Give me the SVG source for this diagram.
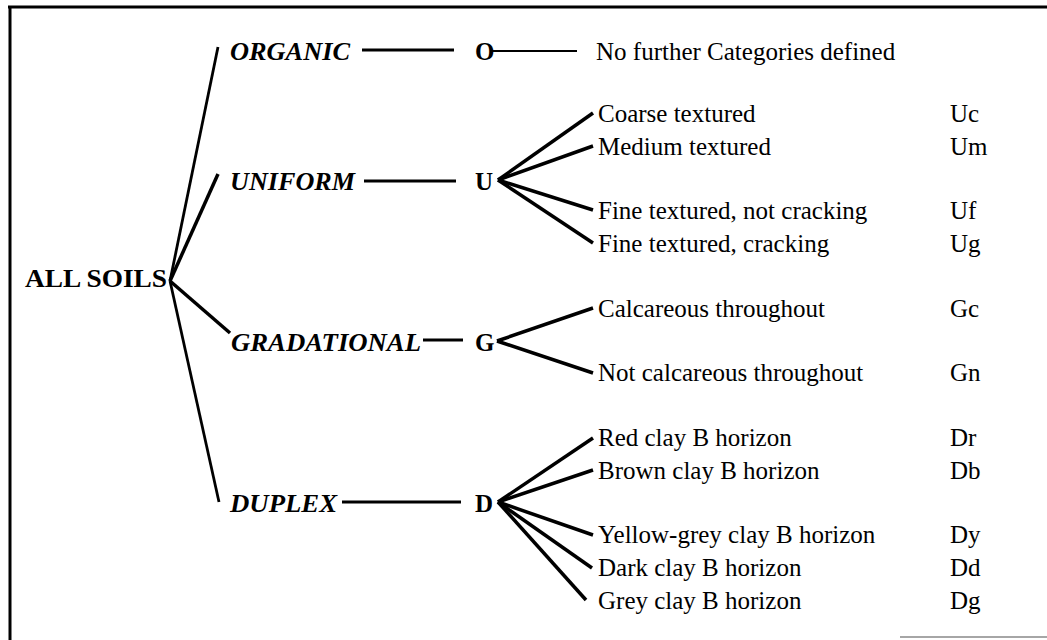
<svg xmlns="http://www.w3.org/2000/svg" width="1047" height="640" viewBox="0 0 1047 640">
<style>
text{font-family:"Liberation Serif","Times New Roman",serif;fill:#000}
.r{font-size:25px}
.b{font-size:25px;font-weight:bold}
.bi{font-size:25px;font-weight:bold;font-style:italic}
.c line{stroke:#000;stroke-width:3.5;stroke-linecap:butt}
.frame{stroke:#000;stroke-width:3;fill:none}
</style>
<rect width="1047" height="640" fill="#fff"/>
<g id="frame">
<line class="frame" x1="8" y1="7" x2="1047" y2="7"/>
<line class="frame" x1="10" y1="6" x2="10" y2="640"/>
<line x1="900" y1="637" x2="1047" y2="637" stroke="#888" stroke-width="1.5"/>
</g>
<g id="all-soils"><text class="b" x="25" y="287" textLength="142" lengthAdjust="spacingAndGlyphs">ALL SOILS</text></g>
<g id="organic"><text class="bi" x="230" y="60" textLength="120" lengthAdjust="spacingAndGlyphs">ORGANIC</text></g>
<g id="uniform"><text class="bi" x="230" y="190" textLength="125" lengthAdjust="spacingAndGlyphs">UNIFORM</text></g>
<g id="gradational"><text class="bi" x="231" y="351" textLength="190" lengthAdjust="spacingAndGlyphs">GRADATIONAL</text></g>
<g id="duplex"><text class="bi" x="230" y="512" textLength="107" lengthAdjust="spacingAndGlyphs">DUPLEX</text></g>
<g id="O"><text class="b" x="475" y="60">O</text></g>
<g id="U"><text class="b" x="475" y="190">U</text></g>
<g id="G"><text class="b" x="475" y="351">G</text></g>
<g id="D"><text class="b" x="475" y="512">D</text></g>
<g id="no-further"><text class="r" x="596" y="60">No further Categories defined</text></g>
<g id="Uc"><text class="r" x="598" y="122">Coarse textured</text><text class="r" x="950" y="122">Uc</text></g>
<g id="Um"><text class="r" x="598" y="155">Medium textured</text><text class="r" x="950" y="155">Um</text></g>
<g id="Uf"><text class="r" x="598" y="219">Fine textured, not cracking</text><text class="r" x="950" y="219">Uf</text></g>
<g id="Ug"><text class="r" x="598" y="252">Fine textured, cracking</text><text class="r" x="950" y="252">Ug</text></g>
<g id="Gc"><text class="r" x="598" y="317">Calcareous throughout</text><text class="r" x="950" y="317">Gc</text></g>
<g id="Gn"><text class="r" x="598" y="381">Not calcareous throughout</text><text class="r" x="950" y="381">Gn</text></g>
<g id="Dr"><text class="r" x="598" y="446">Red clay B horizon</text><text class="r" x="950" y="446">Dr</text></g>
<g id="Db"><text class="r" x="598" y="479">Brown clay B horizon</text><text class="r" x="950" y="479">Db</text></g>
<g id="Dy"><text class="r" x="598" y="543">Yellow-grey clay B horizon</text><text class="r" x="950" y="543">Dy</text></g>
<g id="Dd"><text class="r" x="598" y="576">Dark clay B horizon</text><text class="r" x="950" y="576">Dd</text></g>
<g id="Dg"><text class="r" x="598" y="609">Grey clay B horizon</text><text class="r" x="950" y="609">Dg</text></g>
<g id="connectors" class="c">
<line x1="170" y1="281" x2="218" y2="47" style="stroke-width:2.8"/>
<line x1="170" y1="281" x2="218" y2="174"/>
<line x1="170" y1="281" x2="230" y2="333"/>
<line x1="170" y1="281" x2="219" y2="502" style="stroke-width:2.8"/>
<line x1="362" y1="50" x2="454" y2="50" style="stroke-width:2.8"/>
<line x1="364" y1="181" x2="456" y2="181" style="stroke-width:2.8"/>
<line x1="423" y1="340" x2="463" y2="340" style="stroke-width:2.8"/>
<line x1="342" y1="502" x2="461" y2="502" style="stroke-width:2.8"/>
<line x1="492" y1="51" x2="577" y2="51" style="stroke-width:2"/>
<line x1="498" y1="180" x2="593" y2="113"/>
<line x1="498" y1="180" x2="593" y2="146"/>
<line x1="498" y1="180" x2="593" y2="210"/>
<line x1="498" y1="180" x2="593" y2="243"/>
<line x1="497" y1="341" x2="593" y2="308"/>
<line x1="497" y1="341" x2="593" y2="373"/>
<line x1="498" y1="502" x2="593" y2="438"/>
<line x1="498" y1="502" x2="593" y2="470"/>
<line x1="498" y1="502" x2="593" y2="535"/>
<line x1="498" y1="502" x2="592" y2="568"/>
<line x1="498" y1="502" x2="586" y2="600"/>
</g>
</svg>
